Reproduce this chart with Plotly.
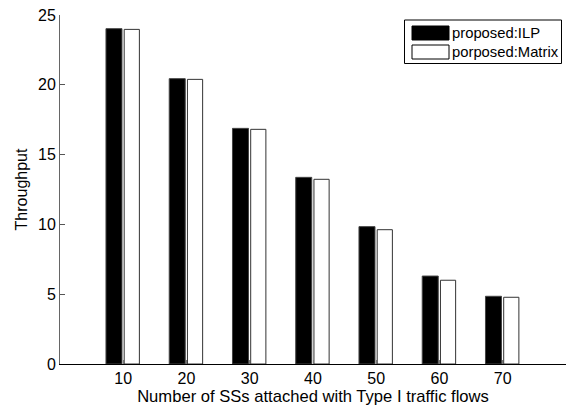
import plotly.graph_objects as go

categories = [10, 20, 30, 40, 50, 60, 70]
ilp = [24.02, 20.44, 16.88, 13.37, 9.84, 6.30, 4.85]
matrix = [23.97, 20.39, 16.81, 13.23, 9.62, 6.00, 4.78]
series_names = ["proposed:ILP", "porposed:Matrix"]
y_ticks = [0, 5, 10, 15, 20, 25]

W, H = 566, 407
ML, MR, MT, MB = 60, 0, 15, 43
PW, PH = W - ML - MR, H - MT - MB

def px_x(p):
    return (p - ML) / PW

def px_y(p):
    return (H - MB - p) / PH

FONT = "Liberation Sans, Arial, sans-serif"

fig = go.Figure()
fig.add_trace(go.Bar(x=categories, y=ilp, name=series_names[0], offset=-2.73, width=2.53,
                     marker=dict(color="black", line=dict(color="#444", width=1)),
                     showlegend=False))
fig.add_trace(go.Bar(x=categories, y=matrix, name=series_names[1], offset=0.15, width=2.4,
                     marker=dict(color="white", line=dict(color="#333", width=1)),
                     showlegend=False))

shapes = [
    dict(type="rect", xref="paper", yref="paper", x0=px_x(404.5), x1=px_x(561.5),
         y0=px_y(63.5), y1=px_y(20), line=dict(color="black", width=1), fillcolor="white", layer="above"),
    dict(type="rect", xref="paper", yref="paper", x0=px_x(412), x1=px_x(449),
         y0=px_y(40), y1=px_y(26), line=dict(color="black", width=1), fillcolor="black", layer="above"),
    dict(type="rect", xref="paper", yref="paper", x0=px_x(412), x1=px_x(449),
         y0=px_y(59), y1=px_y(45), line=dict(color="black", width=1), fillcolor="white", layer="above"),
]
annotations = [
    dict(xref="paper", yref="paper", x=px_x(449.5), y=px_y(33), text=series_names[0], showarrow=False,
         xanchor="left", yanchor="middle", font=dict(family=FONT, size=14.8, color="black")),
    dict(xref="paper", yref="paper", x=px_x(449.5), y=px_y(52), text=series_names[1], showarrow=False,
         xanchor="left", yanchor="middle", font=dict(family=FONT, size=14.8, color="black")),
]

fig.update_layout(
    width=W, height=H,
    margin=dict(l=ML, r=MR, t=MT, b=MB, pad=0),
    paper_bgcolor="white", plot_bgcolor="white",
    barmode="overlay",
    font=dict(family=FONT, size=16, color="black"),
    shapes=shapes, annotations=annotations,
    xaxis=dict(range=[0, 80], tickvals=categories, ticktext=[str(c) for c in categories],
               ticks="inside", ticklen=4, tickcolor="#777", showline=True, linecolor="black",
               linewidth=1, showgrid=False, zeroline=False, tickfont=dict(size=16),
               title=dict(text="Number of SSs attached with Type I traffic flows", standoff=0,
                          font=dict(size=16.6))),
    yaxis=dict(range=[0, 25], tickvals=y_ticks, ticks="inside", ticklen=5, tickcolor="#555",
               showline=True, linecolor="#666", linewidth=1, showgrid=False, zeroline=False,
               tickfont=dict(size=16),
               title=dict(text="Throughput", standoff=6, font=dict(size=16))),
)

fig.write_html("out.html")
